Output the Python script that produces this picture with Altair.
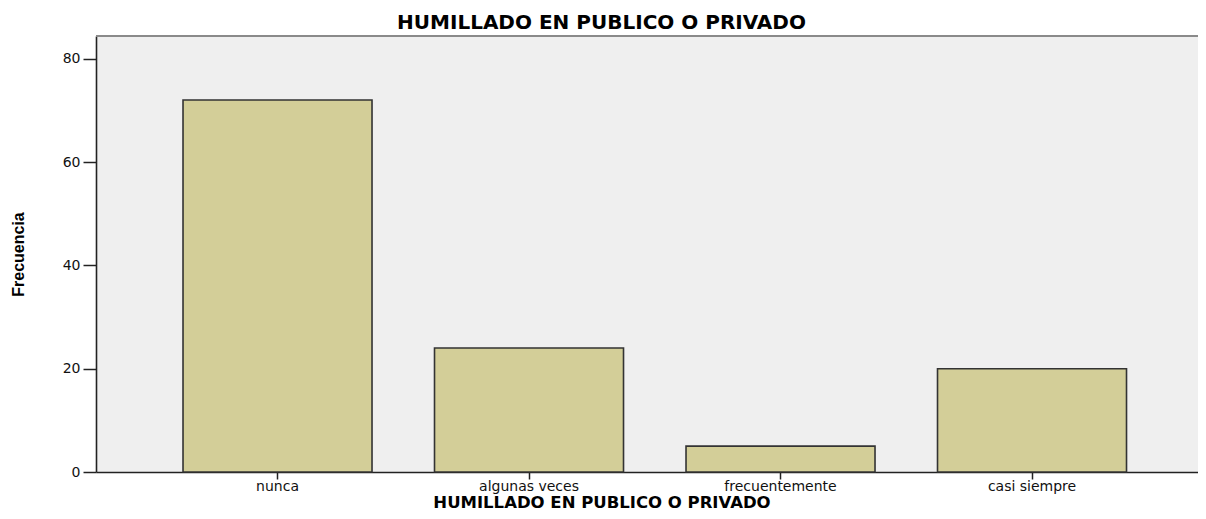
import altair as alt
import pandas as pd

categories = ["nunca", "algunas veces", "frecuentemente", "casi siempre"]
frecuencia = [72, 24, 5, 20]
y_ticks = [0, 20, 40, 60, 80]
titulo = "HUMILLADO EN PUBLICO O PRIVADO"

PLOT_W = 1102
PLOT_H = 436

df = pd.DataFrame({"cat": categories, "freq": frecuencia})

bars = alt.Chart(df).mark_bar(
    color="#d3ce98", stroke="#333333", strokeWidth=1.6
).encode(
    x=alt.X(
        "cat:N",
        sort=categories,
        scale=alt.Scale(paddingInner=0.2485, paddingOuter=0.3151, align=0.549),
        axis=alt.Axis(
            title=titulo,
            labelAngle=0,
            labelFont="DejaVu Sans",
            labelFontSize=14,
            labelColor="#111",
            labelBaseline="alphabetic",
            labelPadding=11,
            tickSize=7,
            tickColor="#222",
            tickWidth=1.5,
            domainColor="#222",
            domainWidth=1.6,
            titleFont="DejaVu Sans",
            titleFontSize=16.5,
            titleFontWeight="bold",
            titleColor="#000",
            titleX=505.5,
            titleY=35,
            titleAlign="center",
            titleBaseline="alphabetic",
        ),
    ),
    y=alt.Y(
        "freq:Q",
        scale=alt.Scale(domain=[0, 84.4], nice=False, zero=True),
        axis=alt.Axis(
            title="Frecuencia",
            values=y_ticks,
            grid=False,
            labelFont="DejaVu Sans",
            labelFontSize=14,
            labelColor="#111",
            labelPadding=3,
            tickSize=13,
            tickColor="#222",
            tickWidth=1.5,
            domainColor="#222",
            domainWidth=1.6,
            titleFont="Liberation Sans",
            titleFontSize=16,
            titleFontWeight="bold",
            titleColor="#000",
            titleAngle=270,
            titleX=-73,
            titleY=218,
            titleAlign="center",
            titleBaseline="alphabetic",
        ),
    ),
)

top_border = alt.Chart(df).mark_rule(color="#8a8a8a", strokeWidth=2).encode(
    x=alt.value(0), x2=alt.value(PLOT_W), y=alt.value(0)
)

chart = alt.layer(bars, top_border).properties(
    width=PLOT_W,
    height=PLOT_H,
    padding={"left": 88, "top": 28, "right": 0, "bottom": 39},
    autosize="none",
    title=alt.TitleParams(
        text=titulo,
        font="DejaVu Sans",
        fontSize=20,
        fontWeight="bold",
        color="#000",
        anchor="middle",
        frame="group",
        dx=-45.5,
        dy=21,
        offset=7,
        baseline="alphabetic",
    ),
).configure_view(
    fill="#efefef", stroke=None
)

chart.save("out.html", embed_options={"renderer": "svg", "actions": False})
